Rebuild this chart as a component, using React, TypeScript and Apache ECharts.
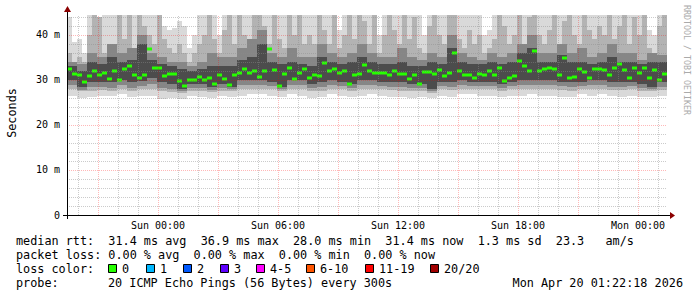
import React, { useEffect, useRef } from 'react';
import * as echarts from 'echarts';

// ---- axis ranges (hours relative to Sun 00:00; y in ms) ----
const X_MIN = -4.55;
const X_MAX = 25.45;
const Y_MAX = 44.44;

const xTickHours = [0, 6, 12, 18, 24];
const xTickLabels = ['Sun 00:00', 'Sun 06:00', 'Sun 12:00', 'Sun 18:00', 'Mon 00:00'];
const yTickValues = [0, 10, 20, 30, 40];
const yTickLabels = ['0', '10 m', '20 m', '30 m', '40 m'];

// ---- median rtt (ms), one value per 15 minutes ----
const FINE_STEP = 0.25;
const median = [
  32.4, 31.4, 31.2, 29.5, 30.8, 32.0, 31.2, 31.5, 30.3, 32.1,
  30.0, 32.4, 33.0, 31.0, 30.4, 31.2, 36.8, 32.7, 32.7, 30.8,
  31.4, 31.3, 29.7, 28.6, 30.0, 30.0, 30.6, 30.0, 30.4, 29.1,
  31.2, 30.2, 28.9, 31.2, 31.6, 32.5, 31.6, 31.9, 30.6, 32.1,
  36.9, 32.2, 28.7, 31.4, 32.7, 30.3, 31.5, 32.4, 30.4, 31.0,
  30.8, 33.7, 32.1, 32.4, 31.5, 31.9, 29.0, 31.2, 31.3, 33.4,
  31.9, 31.6, 31.6, 31.6, 31.2, 32.1, 31.3, 31.3, 30.3, 31.0,
  29.0, 31.7, 31.8, 31.4, 32.3, 30.8, 31.6, 35.9, 31.9, 31.2,
  31.2, 30.4, 31.3, 31.1, 32.1, 31.1, 32.7, 29.8, 30.4, 30.8,
  34.2, 33.0, 31.9, 36.4, 32.1, 32.5, 32.6, 32.4, 31.2, 34.9,
  30.4, 30.6, 32.4, 31.8, 30.4, 32.4, 32.5, 32.3, 31.2, 32.7,
  33.5, 32.3, 30.4, 32.6, 31.6, 32.7, 30.4, 32.3, 30.0, 31.4,
];

// ---- upper smoke edges (ms), one value per 15 minutes ----
const smokeHi = [
  44, 38.5, 39, 36, 45, 45, 41, 45, 45, 45, 45, 45,
  45, 45, 45, 45, 45, 45, 45, 42, 41, 41.5, 43, 42,
  37, 40, 45, 45, 45, 45, 40, 45, 45, 45, 45, 45,
  45, 45, 45, 45, 45, 45, 45, 45, 45, 45, 45, 45,
  45, 45, 45, 45, 45, 45, 41, 45, 45, 45, 45, 45,
  45, 45, 40, 45, 45, 45, 45, 45, 45, 45, 45, 40,
  45, 45, 45, 45, 45, 45, 45, 45, 45, 45, 45, 40,
  41, 45, 45, 45, 45, 45, 45, 45, 45, 45, 45, 45,
  45, 45, 45, 45, 45, 45, 45, 45, 45, 45, 45, 45,
  45, 45, 45, 45, 45, 45, 45, 45, 41, 40, 45, 45,
];
const smokeHi2 = [
  36, 34, 35, 34, 40, 45, 44, 36, 38, 35, 45, 39,
  45, 37, 45, 42, 40, 38, 45, 39, 37, 36, 38, 36,
  34, 36, 38, 40, 45, 39, 36, 41, 45, 38, 45, 40,
  38, 45, 45, 42, 38, 45, 39, 37, 45, 40, 45, 38,
  40, 38, 45, 41, 38, 45, 37, 40, 45, 39, 45, 43,
  38, 45, 36, 40, 45, 41, 38, 45, 39, 44, 37, 36,
  42, 45, 40, 38, 45, 45, 39, 37, 41, 38, 40, 36,
  37, 39, 45, 42, 38, 40, 45, 38, 44, 45, 40, 38,
  41, 45, 38, 43, 45, 40, 38, 45, 41, 39, 42, 40,
  45, 39, 42, 45, 38, 44, 40, 45, 37, 36, 42, 45,
];

// ---- inner smoke edges (ms), one value per 30 minutes ----
const COARSE_STEP = 0.5;
const smokeHiM = [
  34, 33.5, 36, 35, 38, 36, 37, 40, 36, 35, 34, 34,
  33, 34, 36, 35, 35, 37, 39, 41, 36, 35, 37, 35,
  35, 38, 36, 35, 36, 38, 36, 35, 35, 37, 35, 34.5,
  36, 35, 40, 36, 35, 34.5, 36, 35, 36, 38, 40, 36,
  36, 38, 36, 37, 35, 36, 38, 36, 36, 34.5, 36, 35.5,
];
const smokeHi3 = [
  33, 32, 34, 33.5, 35, 34, 34.5, 38, 34.5, 33.5, 33, 32.5,
  32, 32.5, 33, 33, 33, 34.5, 35, 38, 34, 33.5, 34, 33.5,
  33, 35, 34, 33.5, 34, 35, 34, 33.5, 33.5, 34, 33, 33,
  34, 33.5, 37, 34, 33.5, 33.5, 34, 33.5, 34, 36, 37, 34,
  34, 35.5, 34, 34, 33.5, 34, 35, 34, 34, 33.5, 34, 34,
];
const smokeLo3 = [
  30, 28.5, 29.5, 29.5, 29.5, 30, 29.5, 29.8, 30.5, 29.5, 29, 28,
  29, 29, 28.5, 29, 28.5, 30, 30, 30, 29.5, 28.5, 30, 30,
  29, 29.5, 30, 29.5, 29, 30, 30, 29.5, 29.5, 29.5, 29, 29,
  28, 29.5, 29.5, 30, 29.5, 29.5, 29.5, 29, 29.5, 30, 30, 30,
  30, 29.5, 29.5, 29.5, 30, 30, 29.5, 29.5, 29.5, 29, 28.5, 29.5,
];
const smokeLoM = [
  28.8, 27.8, 28.5, 28.5, 28.3, 28.8, 28.3, 28.6, 29, 28.3, 28, 27.5,
  28.3, 28.2, 27.8, 28.2, 28, 28.8, 28.8, 28.8, 28.6, 28, 28.8, 28.8,
  28.2, 28.5, 28.8, 28.6, 28.2, 28.8, 28.8, 28.6, 28.5, 28.5, 28.2, 28.2,
  27.5, 28.6, 28.5, 28.8, 28.6, 28.6, 28.6, 28.2, 28.6, 28.8, 28.8, 28.8,
  28.8, 28.6, 28.5, 28.6, 28.8, 28.8, 28.5, 28.5, 28.6, 28.2, 28, 28.5,
];
const smokeLo2 = [
  28, 27.5, 27.5, 27.8, 27.5, 28, 27.5, 28, 28, 27.5, 27.3, 27,
  27.5, 27.5, 27.3, 27.5, 27.5, 28, 28, 28, 28, 27.5, 28, 28,
  27.5, 27.5, 28, 28, 27.5, 28, 28, 28, 27.8, 27.5, 27.5, 27.5,
  27, 28, 27.8, 28, 28, 28, 28, 27.5, 28, 28, 28, 28,
  28, 27.8, 27.5, 28, 28, 28, 27.8, 27.8, 28, 27.5, 27.5, 27.8,
];
const smokeLo = [
  26.5, 26, 26.2, 26.5, 26.5, 26.8, 26.3, 26.5, 26.5, 25.8, 26, 25.8,
  26.5, 26.2, 26, 26.5, 26.3, 26.5, 26.8, 26.8, 26.5, 26.3, 26.8, 26.5,
  26, 26.3, 26.8, 26.5, 26.3, 26.5, 26.8, 26.5, 26.2, 26.2, 26, 26.3,
  26, 26.5, 26.3, 26.8, 26.8, 26.5, 26.5, 26.3, 26.5, 26.5, 26.8, 26.5,
  26.5, 26.3, 26.3, 26.8, 26.5, 26.8, 26.5, 26.3, 26.5, 26.3, 26.2, 26.5,
];

// ---- legend ----
const statLine1 = 'median rtt:  31.4 ms avg  36.9 ms max  28.0 ms min  31.4 ms now  1.3 ms sd  23.3   am/s';
const statLine2 = 'packet loss: 0.00 % avg  0.00 % max  0.00 % min  0.00 % now';
const lossLabels = ['0', '1', '2', '3', '4-5', '6-10', '11-19', '20/20'];
const lossColors = ['#26ff00', '#00b8ff', '#0059ff', '#5e00ff', '#ff00ff', '#ff5500', '#ff0000', '#a10000'];
const lossBoxX = [108, 146, 183, 220, 256, 306, 365, 430];
const probeText = '20 ICMP Echo Pings (56 Bytes) every 300s';
const dateText = 'Mon Apr 20 01:22:18 2026';

const MONO = '"DejaVu Sans Mono", monospace';
const nb = (s: string) => s.replace(/ /g, '\u00a0');

function bandRect(api: any, x0: number, x1: number, lo: number, hi: number, fill: string) {
  const top = Math.min(hi, Y_MAX);
  const p0 = api.coord([x0, top]);
  const p1 = api.coord([x1, lo]);
  const xa = Math.round(p0[0]), xb = Math.round(p1[0]);
  const ya = Math.round(p0[1]), yb = Math.round(p1[1]);
  return { type: 'rect', shape: { x: xa, y: ya, width: xb - xa, height: Math.max(0, yb - ya) }, style: { fill } };
}

export default function App() {
  const ref = useRef<HTMLDivElement>(null);
  useEffect(() => {
    if (!ref.current) return;
    const chart = echarts.init(ref.current, undefined, { renderer: 'svg' });

    const outerData = smokeHi.map((_, i) => [
      X_MIN + i * FINE_STEP, X_MIN + (i + 1) * FINE_STEP,
      smokeLo[Math.floor(i / 2)], smokeHi[i], smokeLo2[Math.floor(i / 2)], smokeHi2[i],
    ]);
    const innerData = smokeHi3.map((_, j) => [
      X_MIN + j * COARSE_STEP, X_MIN + (j + 1) * COARSE_STEP,
      smokeLoM[j], smokeHiM[j], smokeLo3[j], smokeHi3[j],
    ]);
    const medianData = median.map((v, i) => [X_MIN + i * FINE_STEP, X_MIN + (i + 1) * FINE_STEP, v]);

    const gridData: number[][] = [];
    for (let h = Math.ceil(X_MIN); h <= Math.floor(X_MAX); h++) gridData.push([0, h, h % 3 === 0 ? 1 : 0]);
    for (let v = 2; v < Y_MAX; v += 2) gridData.push([1, v, v % 10 === 0 ? 1 : 0]);

    const txt = (x: number, y: number, text: string, extra: any = {}) => ({
      type: 'text', x, y, z: 100,
      style: { text: nb(text), font: `11.8px ${MONO}`, fill: '#000', verticalAlign: 'middle', ...extra },
    });

    const graphics: any[] = [
      { type: 'line', shape: { x1: 63, y1: 215.5, x2: 670, y2: 215.5 }, style: { stroke: '#000', lineWidth: 1 }, z: 100 },
      { type: 'line', shape: { x1: 67.5, y1: 219, x2: 67.5, y2: 11 }, style: { stroke: '#000', lineWidth: 1 }, z: 100 },
      { type: 'polygon', shape: { points: [[64, 12], [71, 12], [67.5, 6]] }, style: { fill: '#8b0000' }, z: 100 },
      { type: 'polygon', shape: { points: [[670, 212], [670, 219], [675, 215.5]] }, style: { fill: '#8b0000' }, z: 100 },
      { type: 'text', x: 12, y: 113, rotation: Math.PI / 2,
        style: { text: 'Seconds', font: `11.8px ${MONO}`, fill: '#000', align: 'center', verticalAlign: 'middle' } },
      { type: 'text', x: 687, y: 5, rotation: -Math.PI / 2,
        style: { text: nb('RRDTOOL / TOBI OETIKER'), font: `8.3px ${MONO}`, fill: '#aaaaaa', align: 'left', verticalAlign: 'middle' } },
      txt(16, 241, statLine1),
      txt(16, 255, statLine2),
      txt(16, 269, 'loss color:'),
      txt(16, 283, 'probe:'),
      txt(108, 283, probeText),
      txt(683, 283, dateText, { align: 'right' }),
    ];
    lossLabels.forEach((lab, k) => {
      graphics.push({ type: 'rect', z: 100, shape: { x: lossBoxX[k] + 0.5, y: 264.5, width: 8, height: 8 },
        style: { fill: lossColors[k], stroke: '#000', lineWidth: 1 } });
      graphics.push(txt(lossBoxX[k] + 14, 269, lab));
    });

    chart.setOption({
      animation: false,
      backgroundColor: '#ffffff',
      grid: { left: 67, top: 15, width: 600, height: 200, containLabel: false },
      xAxis: {
        type: 'value', min: X_MIN, max: X_MAX,
        axisLine: { show: false }, axisTick: { show: false }, splitLine: { show: false },
        axisLabel: {
          customValues: xTickHours,
          formatter: (v: number) => xTickLabels[xTickHours.indexOf(Math.round(v))] ?? '',
          fontFamily: MONO, fontSize: 10, color: '#000', margin: 5,
        },
      },
      yAxis: {
        type: 'value', min: 0, max: Y_MAX,
        axisLine: { show: false }, axisTick: { show: false }, splitLine: { show: false },
        axisLabel: {
          customValues: yTickValues,
          formatter: (v: number) => yTickLabels[yTickValues.indexOf(Math.round(v))] ?? '',
          fontFamily: MONO, fontSize: 10, color: '#000', margin: 7,
        },
      },
      series: [
        {
          type: 'custom', name: 'smoke-outer', data: outerData, clip: true, silent: true,
          encode: { x: [0, 1], y: [2, 3] },
          renderItem: (params: any, api: any) => {
            const x0 = api.value(0), x1 = api.value(1);
            return {
              type: 'group',
              children: [
                bandRect(api, x0, x1, api.value(2), api.value(3), '#d9d9d9'),
                bandRect(api, x0, x1, api.value(4), api.value(5), '#b3b3b3'),
              ],
            };
          },
          z: 1,
        },
        {
          type: 'custom', name: 'smoke-inner', data: innerData, clip: true, silent: true,
          encode: { x: [0, 1], y: [2, 3] },
          renderItem: (params: any, api: any) => {
            const x0 = api.value(0), x1 = api.value(1);
            return {
              type: 'group',
              children: [
                bandRect(api, x0, x1, api.value(2), api.value(3), '#868686'),
                bandRect(api, x0, x1, api.value(4), api.value(5), '#4c4c4c'),
              ],
            };
          },
          z: 2,
        },
        {
          type: 'custom', name: 'median', data: medianData, clip: true, silent: true,
          encode: { x: [0, 1], y: 2 },
          renderItem: (params: any, api: any) => {
            const p0 = api.coord([api.value(0), api.value(2)]);
            const p1 = api.coord([api.value(1), api.value(2)]);
            const xa = Math.round(p0[0]), xb = Math.round(p1[0]);
            return { type: 'rect', shape: { x: xa, y: Math.round(p0[1]) - 1.5, width: xb - xa, height: 3 }, style: { fill: '#26ff00' } };
          },
          z: 3,
        },
        {
          type: 'custom', name: 'grid', data: gridData, silent: true,
          encode: { x: 1, y: 1 },
          renderItem: (params: any, api: any) => {
            const kind = api.value(0), v = api.value(1), major = api.value(2);
            const stroke = major ? 'rgba(255,0,0,0.28)' : 'rgba(140,140,140,0.45)';
            if (kind === 0) {
              const p0 = api.coord([v, 0]);
              const p1 = api.coord([v, Y_MAX]);
              const x = Math.round(p0[0]) + 0.5;
              return { type: 'line', shape: { x1: x, y1: p0[1], x2: x, y2: p1[1] }, style: { stroke, lineWidth: 1, lineDash: [1, 1] } };
            }
            const p0 = api.coord([X_MIN, v]);
            const p1 = api.coord([X_MAX, v]);
            const y = Math.round(p0[1]) + 0.5;
            return { type: 'line', shape: { x1: p0[0], y1: y, x2: p1[0], y2: y }, style: { stroke, lineWidth: 1, lineDash: [1, 1] } };
          },
          z: 5,
        },
      ],
      graphic: graphics,
    });
    return () => chart.dispose();
  }, []);
  return <div ref={ref} style={{ position: 'absolute', left: 0, top: 0, width: 697, height: 297 }} />;
}
